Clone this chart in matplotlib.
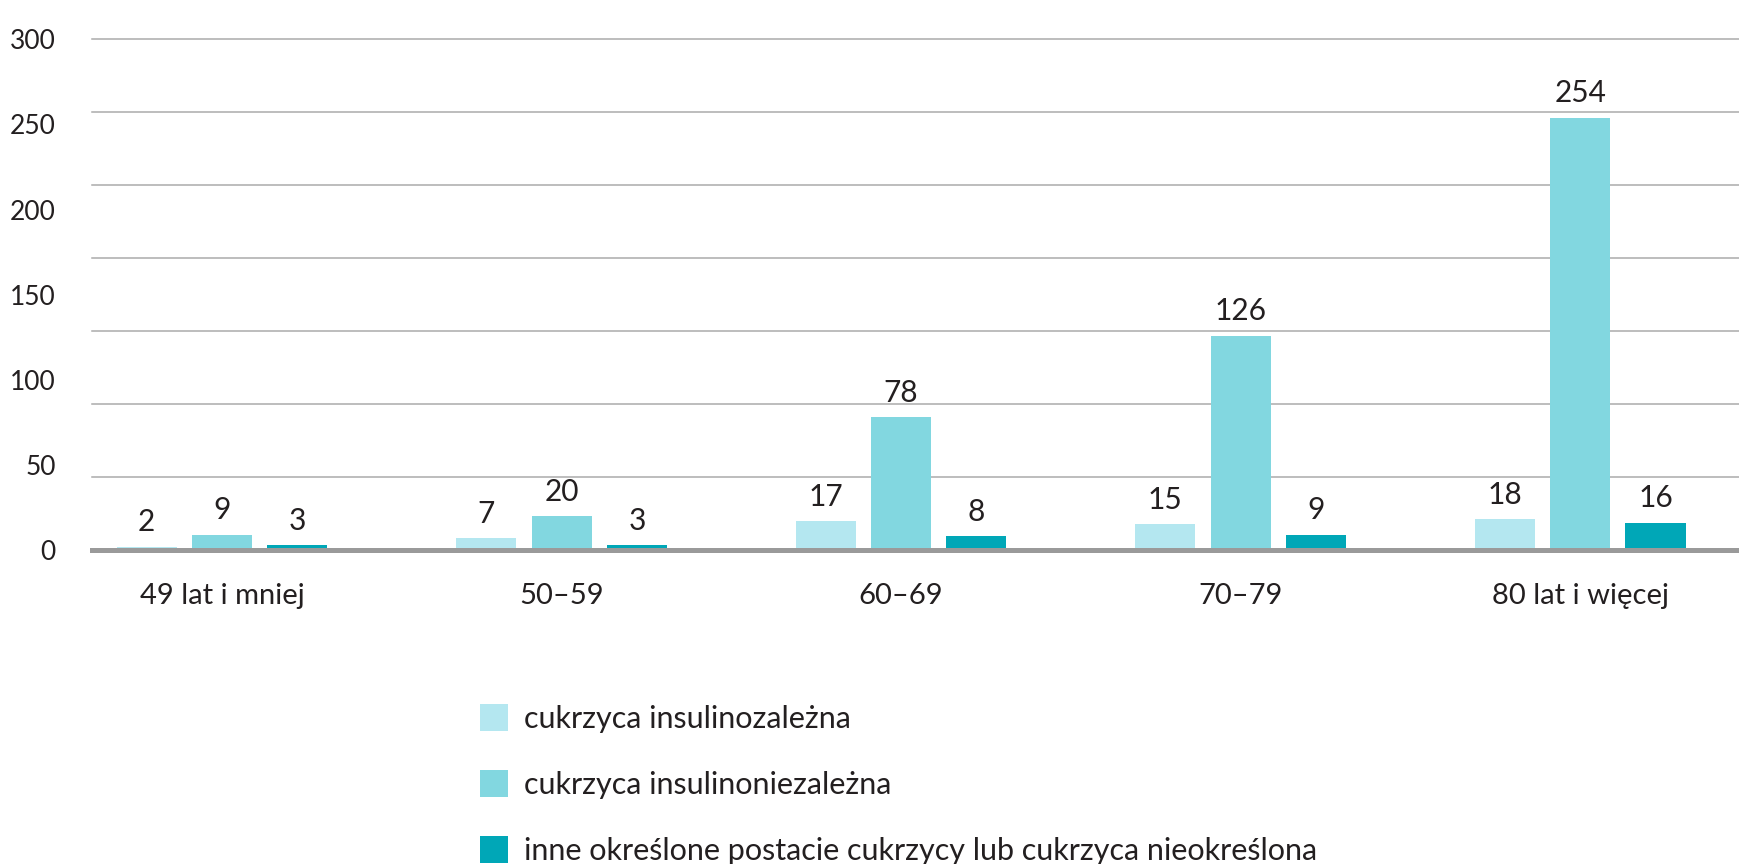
import numpy as np
import matplotlib.pyplot as plt
from matplotlib.patches import Patch

groups = ['49 lat i mniej', '50–59', '60–69', '70–79', '80 lat i więcej']
insulinozalezna = [2, 7, 17, 15, 18]
insulinoniezalezna = [9, 20, 78, 126, 254]
inne = [3, 3, 8, 9, 16]
series_names = ['cukrzyca insulinozależna',
                'cukrzyca insulinoniezależna',
                'inne określone postacie cukrzycy lub cukrzyca nieokreślona']
colors = ['#b4e7f0', '#82d7e0', '#00a7b7']
yticks = [0, 50, 100, 150, 200, 250, 300]

plt.rcParams['font.family'] = ['Lato', 'DejaVu Sans']
text_color = '#231f20'

W, H = 1740, 864
fig = plt.figure(figsize=(W / 100, H / 100), dpi=100)
ax = fig.add_axes([92 / W, 1 - 550 / H, 1 - 92 / W, (550 - 39.3) / H])

x = np.arange(len(groups))
offset = 0.222
width = 0.177
for i, (vals, c) in enumerate(zip([insulinozalezna, insulinoniezalezna, inne], colors)):
    bars = ax.bar(x + (i - 1) * offset, vals, width, color=c, zorder=2)
    for b, v in zip(bars, vals):
        ax.annotate(str(v), (b.get_x() + b.get_width() / 2, v),
                    xytext=(0, 11), textcoords='offset points',
                    ha='center', va='baseline', fontsize=21.5, color=text_color)

ax.set_xlim(-0.383, 4.471)
ax.set_ylim(0, 300)

# siatka co 300/7, jak w oryginale
for g in np.linspace(0, 300, 8)[1:]:
    ax.axhline(g, color='#ababab', lw=1.1, zorder=1, clip_on=False)
ax.axhline(0, color='#9a9a9a', lw=3.6, zorder=3, clip_on=False)

for s in ax.spines.values():
    s.set_visible(False)

ax.set_yticks(yticks)
ax.set_yticklabels([str(t) for t in yticks])
ax.tick_params(axis='y', length=0, pad=26, labelsize=19, labelcolor=text_color)
ax.set_xticks(x)
ax.set_xticklabels(groups)
ax.tick_params(axis='x', length=0, pad=24, labelsize=21, labelcolor=text_color)

handles = [Patch(facecolor=c, edgecolor='none', label=n) for c, n in zip(colors, series_names)]
fig.legend(handles=handles, loc='upper left', bbox_to_anchor=(480 / W, 1 - 704.5 / H),
           frameon=False, fontsize=22, handlelength=0.915, handleheight=0.96,
           handletextpad=0.52, labelspacing=1.21, borderpad=0, borderaxespad=0,
           labelcolor=text_color)

fig.savefig('out.png', dpi=100)
